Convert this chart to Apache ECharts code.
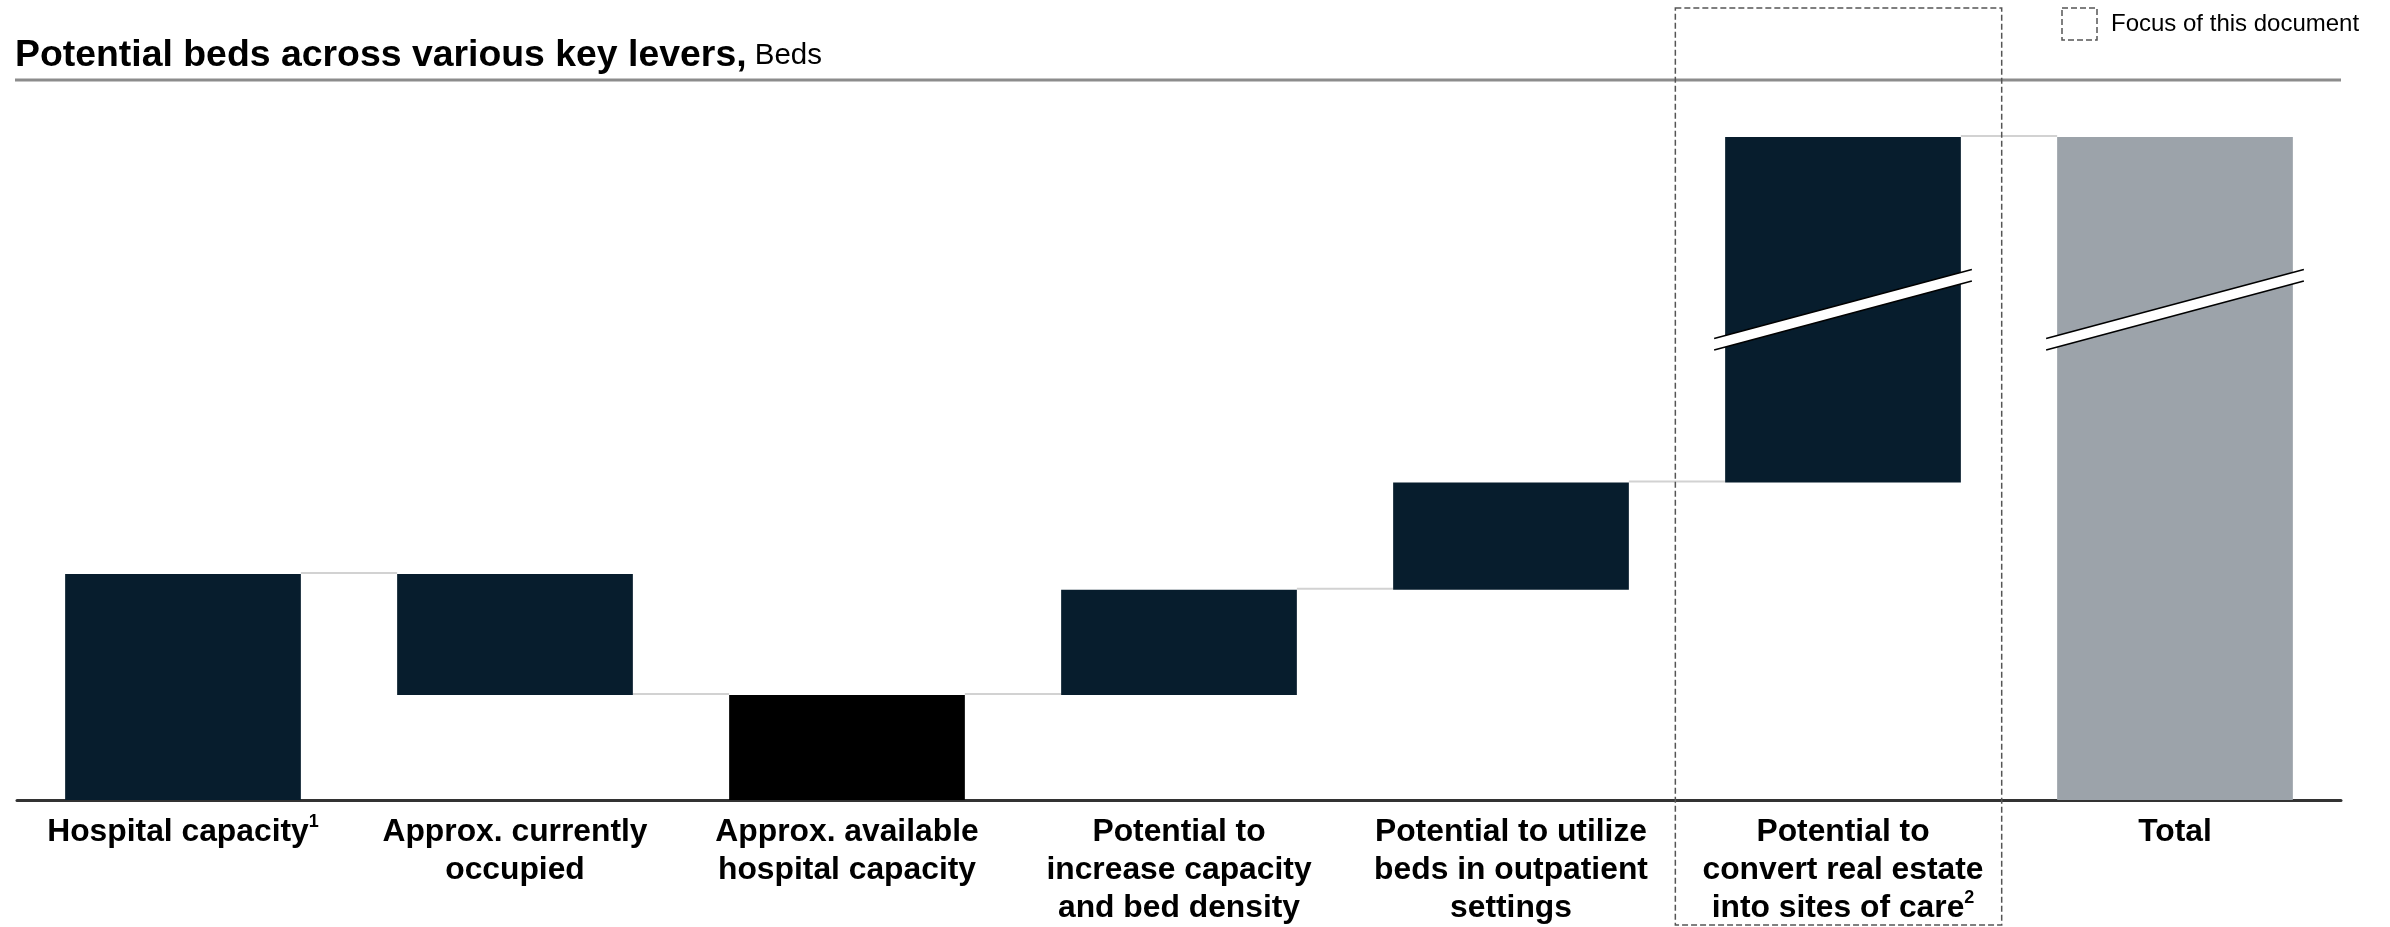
<!DOCTYPE html>
<html>
<head>
	<meta charset="utf-8" />
	<title>Potential beds across various key levers</title>
	<style>
		* {
			padding: 0;
			margin: 0;
		}
		body {
			background: #fff;
		}
	</style>
</head>
<body>
	<div id="main" style="width:2390px;height:927px;"></div>
<script src="https://cdn.jsdelivr.net/npm/echarts@6/dist/echarts.min.js"></script>
<script type="text/javascript">
	// data (arbitrary bed units, no ticks shown)
	var categories = [
		'Hospital capacity',
		'Approx. currently\noccupied',
		'Approx. available\nhospital capacity',
		'Potential to\nincrease capacity\nand bed density',
		'Potential to utilize\nbeds in outpatient\nsettings',
		'Potential to\nconvert real estate\ninto sites of care',
		'Total'
	];
	var footnotes = ['1', '', '', '', '', '2', ''];
	var barKinds = ['total', 'decrease', 'total', 'increase', 'increase', 'increase', 'total'];
	var barValues = [31.4, 16.8, 14.6, 14.6, 14.9, 48.0, 92.1];
	var barColors = ['#071d2d', '#071d2d', '#000000', '#071d2d', '#071d2d', '#071d2d', '#9ca3aa'];
	var brokenBars = [5, 6];

	var FONT = "'Liberation Sans', Arial, sans-serif";

	// waterfall bases + connector levels
	var bases = [];
	var levels = [];
	var running = 0;
	barKinds.forEach(function (kind, i) {
		if (kind === 'total') {
			bases.push(0);
			running = barValues[i];
		} else if (kind === 'decrease') {
			running -= barValues[i];
			bases.push(running);
		} else {
			bases.push(running);
			running += barValues[i];
		}
		levels.push(running);
	});
	var connectors = [];
	for (var i = 0; i < categories.length - 1; i++) {
		connectors.push([i, levels[i]]);
	}
	// break sits halfway up the bar that is broken first
	var breakLevel = bases[brokenBars[0]] + barValues[brokenBars[0]] / 2;
	var breaks = brokenBars.map(function (idx) { return [idx, breakLevel]; });

	var BAR_RATIO = 0.71;

	function renderConnector(params, api) {
		var p = api.coord([api.value(0), api.value(1)]);
		var band = api.size([1, 0])[0];
		var half = band * BAR_RATIO / 2;
		return {
			type: 'line',
			shape: { x1: p[0] + half, y1: p[1] - 1, x2: p[0] + band - half, y2: p[1] - 1 },
			style: { stroke: '#d2d2d2', lineWidth: 2 }
		};
	}

	function renderBreak(params, api) {
		var p = api.coord([api.value(0), api.value(1)]);
		var band = api.size([1, 0])[0];
		var half = band * BAR_RATIO / 2 + 11;
		var rise = 34.5;
		var gap = 11.5;
		var x1 = p[0] - half, x2 = p[0] + half;
		var u1 = p[1] + rise - gap / 2, u2 = p[1] - rise - gap / 2;
		var l1 = p[1] + rise + gap / 2, l2 = p[1] - rise + gap / 2;
		return {
			type: 'group',
			children: [
				{
					type: 'polygon',
					shape: { points: [[x1, u1], [x2, u2], [x2, l2], [x1, l1]] },
					style: { fill: '#fff' }
				},
				{
					type: 'line',
					shape: { x1: x1, y1: u1, x2: x2, y2: u2 },
					style: { stroke: '#000', lineWidth: 1.6 }
				},
				{
					type: 'line',
					shape: { x1: x1, y1: l1, x2: x2, y2: l2 },
					style: { stroke: '#000', lineWidth: 1.6 }
				}
			]
		};
	}

	var chartDom = document.getElementById('main');
	var myChart = echarts.init(chartDom);
	var option = {
		animation: false,
		title: {
			left: 15,
			top: 34,
			padding: 0,
			text: '{b|Potential beds across various key levers,}{r| Beds}',
			textStyle: {
				fontWeight: 'normal',
				rich: {
					b: {
						fontFamily: FONT,
						fontSize: 37.4,
						fontWeight: 'bold',
						color: '#000',
						lineHeight: 44
					},
					r: {
						fontFamily: FONT,
						fontSize: 29.5,
						fontWeight: 'normal',
						color: '#000',
						lineHeight: 44
					}
				}
			}
		},
		grid: {
			left: 17,
			right: 49,
			top: 80,
			bottom: 127,
			outerBoundsMode: 'none'
		},
		xAxis: {
			type: 'category',
			data: categories,
			axisTick: { show: false },
			axisLine: {
				lineStyle: { color: '#333', width: 3 }
			},
			axisLabel: {
				interval: 0,
				margin: 13,
				fontFamily: FONT,
				fontSize: 31.8,
				fontWeight: 'bold',
				color: '#000',
				lineHeight: 38,
				formatter: function (value, idx) {
					return footnotes[idx] ? value + '{sup|' + footnotes[idx] + '}' : value;
				},
				rich: {
					sup: {
						fontFamily: FONT,
						fontSize: 18,
						fontWeight: 'bold',
						color: '#000',
						lineHeight: 24,
						verticalAlign: 'top'
					}
				}
			}
		},
		yAxis: {
			type: 'value',
			min: 0,
			max: 100,
			show: false
		},
		series: [
			{
				name: 'base',
				type: 'bar',
				stack: 'wf',
				barWidth: '71%',
				silent: true,
				itemStyle: { color: 'transparent' },
				data: bases
			},
			{
				name: 'beds',
				type: 'bar',
				stack: 'wf',
				barWidth: '71%',
				data: barValues.map(function (v, i) {
					return { value: v, itemStyle: { color: barColors[i] } };
				})
			},
			{
				name: 'connectors',
				type: 'custom',
				silent: true,
				renderItem: renderConnector,
				data: connectors,
				z: 1
			},
			{
				name: 'breaks',
				type: 'custom',
				silent: true,
				clip: false,
				renderItem: renderBreak,
				data: breaks,
				z: 5
			}
		]
	};
	myChart.setOption(option);

	// title rule, focus box and its legend
	var x0 = myChart.convertToPixel({ xAxisIndex: 0 }, 0);
	var x1 = myChart.convertToPixel({ xAxisIndex: 0 }, 1);
	var band = x1 - x0;
	var focusX = myChart.convertToPixel({ xAxisIndex: 0 }, brokenBars[0]);
	var gridLeft = x0 - band / 2;
	var gridRight = gridLeft + band * categories.length;

	myChart.setOption({
		graphic: [
			{
				type: 'line',
				shape: { x1: gridLeft - 2, y1: 80, x2: gridRight, y2: 80 },
				style: { stroke: '#8c8c8c', lineWidth: 3 },
				silent: true
			},
			{
				type: 'rect',
				shape: { x: focusX - band * 0.505, y: 8, width: band * 0.983, height: 917 },
				style: { fill: 'none', stroke: '#555', lineWidth: 1.5, lineDash: [6, 3] },
				z: 10,
				silent: true
			},
			{
				type: 'rect',
				shape: { x: 2062, y: 8, width: 35, height: 32 },
				style: { fill: 'none', stroke: '#555', lineWidth: 1.5, lineDash: [6, 3] },
				silent: true
			},
			{
				type: 'text',
				x: 2111,
				y: 24,
				style: {
					text: 'Focus of this document',
					fontFamily: FONT,
					fontSize: 24,
					fill: '#000',
					verticalAlign: 'middle'
				},
				silent: true
			}
		]
	});
</script>
</body>
</html>
